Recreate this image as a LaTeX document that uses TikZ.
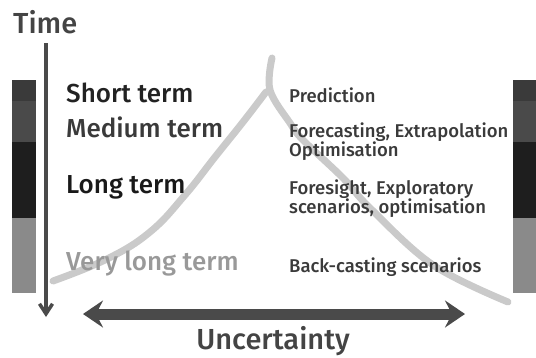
\documentclass[tikz,border=0pt]{standalone}
\usepackage{fontspec}
\setmainfont{Fira Sans Medium}
\usetikzlibrary{arrows.meta}
\definecolor{segA}{HTML}{3A3A3A}
\definecolor{segB}{HTML}{4A4A4A}
\definecolor{segC}{HTML}{1E1E1E}
\definecolor{segD}{HTML}{8A8A8A}
\definecolor{arrowgray}{HTML}{4A4A4A}
\definecolor{curvegray}{HTML}{CACACA}
\definecolor{txtdark}{HTML}{222222}
\definecolor{txtmid}{HTML}{3A3A3A}
\definecolor{txtbig}{HTML}{444444}
\definecolor{txtlight}{HTML}{999999}
\begin{document}
\begin{tikzpicture}[x=1pt,y=-1pt,
  term/.style={anchor=base west, inner sep=0pt, font=\fontsize{26}{26}\selectfont},
  method/.style={anchor=base west, inner sep=0pt, text=txtmid, font=\fontsize{18.5}{19}\selectfont},
  big/.style={anchor=base west, inner sep=0pt, text=txtbig, font=\fontsize{29}{29}\selectfont},
  curve/.style={draw=curvegray, line width=7pt, line cap=round, line join=round},
  timearrow/.style={draw=arrowgray, line width=3.5pt, -{Straight Barb[length=10pt,width=13pt]}},
  uncarrow/.style={draw=arrowgray, line width=11pt, {Stealth[length=20pt,width=27pt,inset=7pt]}-{Stealth[length=20pt,width=27pt,inset=7pt]}}
]
\useasboundingbox (0,0) rectangle (536,357);

% side bars
\fill[segA] (12,80) rectangle (36,101);
\fill[segB] (12,101) rectangle (36,142);
\fill[segC] (12,142) rectangle (36,218);
\fill[segD] (12,218) rectangle (36,293);
\fill[segA] (513,80) rectangle (536,101);
\fill[segB] (513,101) rectangle (536,142);
\fill[segC] (513,142) rectangle (536,218);
\fill[segD] (513,218) rectangle (536,293);

% uncertainty curve
\draw[curve] plot[smooth, tension=0.7] coordinates {(53,281) (107,259) (150,232) (185,195) (215,157) (243,122) (266,92)};
\draw[curve] plot[smooth, tension=0.6] coordinates {(272,58) (270,90) (290,123) (303,140) (343,178) (370,208) (433,265) (508,302)};

% arrows
\coordinate (tTop) at (46,43);
\coordinate (tEnd) at (46,317);
\draw[timearrow] (tTop) -- (tEnd);
\coordinate (uL) at (83,314);
\coordinate (uR) at (465,314);
\draw[uncarrow] (uL) -- (uR);

% labels
\node[big] (time) at (13,33) {Time};
\node[big, anchor=base] (unc) at (273,349) {Uncertainty};

\node[term, text=txtdark] (st) at (66,102) {Short term};
\node[term, text=txtmid] (mt) at (66,137) {Medium term};
\node[term, text=black!90] (lt) at (66,193) {Long term};
\node[term, text=txtlight] (vlt) at (66,270) {Very long term};

\node[method] (m1) at (289,102) {Prediction};
\node[method] (m2a) at (289,137) {Forecasting, Extrapolation};
\node[method] (m2b) at (289,156) {Optimisation};
\node[method] (m3a) at (289,194) {Foresight, Exploratory};
\node[method] (m3b) at (289,213) {scenarios, optimisation};
\node[method] (m4) at (289,272) {Back-casting scenarios};
\end{tikzpicture}
\end{document}
